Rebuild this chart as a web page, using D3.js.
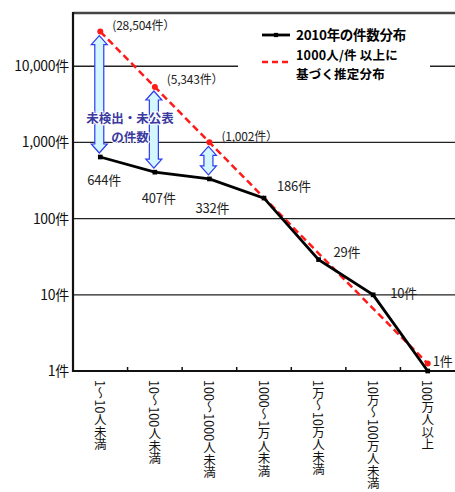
<!DOCTYPE html>
<html><head><meta charset="utf-8">
<script src="https://cdn.jsdelivr.net/npm/d3@7"></script>
<style>
body{margin:0;background:#fff;}
text{font-family:"Noto Sans CJK JP","Noto Sans",sans-serif;}
</style></head><body>
<svg id="c" width="455" height="492"></svg>
<script>
const categories = ["1～10人未満","10～100人未満","100～1000人未満","1000～1万人未満","1万～10万人未満","10万～100万人未満","100万人以上"];
const actual2010 = [644,407,332,186,29,10,1];
const estimated = [28504,5343,1002,188,35,6.6,1.25];
const estimatedLabels = ["(28,504件）","(5,343件）","(1,002件）"];
const actualLabels = ["644件","407件","332件","186件","29件","10件","1件"];
const yTicks = [1,10,100,1000,10000];
const yTickLabels = ["1件","10件","100件","1,000件","10,000件"];
const legendLabels = [["2010年の件数分布"],["1000人/件 以上に","基づく推定分布"]];
const noteLines = ["未検出・未公表","の件数"];

const svg = d3.select("#c");
const L=73, T=13, R=455, B=371;
const x = d3.scaleBand().domain(categories).range([L,R]).padding(0);
const cx = d => x(d)+x.bandwidth()/2;
const y = d3.scaleLog().domain([1,50000]).range([B,T]);

// gridlines
svg.append("g").selectAll("line").data(yTicks.slice(1)).join("line")
  .attr("x1",L).attr("x2",R).attr("y1",d=>y(d)).attr("y2",d=>y(d))
  .attr("stroke","#222").attr("stroke-width",1.3);
// top border
svg.append("line").attr("x1",L).attr("x2",R).attr("y1",T).attr("y2",T).attr("stroke","#444").attr("stroke-width",2.5);

// legend background
svg.append("rect").attr("x",238).attr("y",22).attr("width",192).attr("height",62).attr("fill","#fff");

// y axis labels
svg.append("g").selectAll("text").data(yTicks).join("text")
  .attr("x",L-4).attr("y",d=>y(d)).attr("dy","0.36em").attr("text-anchor","end")
  .attr("font-size",14).attr("fill","#111").attr("letter-spacing","-0.3")
  .text((d,i)=>yTickLabels[i]);

// axes lines
svg.append("line").attr("x1",L).attr("x2",L).attr("y1",T-1).attr("y2",B+1).attr("stroke","#111").attr("stroke-width",2.2);
svg.append("line").attr("x1",L).attr("x2",R).attr("y1",B).attr("y2",B).attr("stroke","#111").attr("stroke-width",2.2);
// x ticks
const tickXs = categories.slice(1).map(c=>x(c));
svg.append("g").selectAll("line").data(tickXs).join("line")
  .attr("x1",d=>d).attr("x2",d=>d).attr("y1",B).attr("y2",B-4).attr("stroke","#111").attr("stroke-width",1.5);

// x labels vertical
svg.append("g").selectAll("text").data(categories).join("text")
  .attr("transform",d=>`translate(${cx(d)},${B+9})`)
  .style("writing-mode","vertical-rl").style("text-orientation","mixed")
  .attr("font-size",12.5).attr("fill","#111")
  .text(d=>d);

// arrows
function arrowPath(xc,y1,y2){
  const hw=8, sw=4.5, hl=9;
  return `M${xc},${y1} L${xc+hw},${y1+hl} L${xc+sw},${y1+hl} L${xc+sw},${y2-hl} L${xc+hw},${y2-hl} L${xc},${y2} L${xc-hw},${y2-hl} L${xc-sw},${y2-hl} L${xc-sw},${y1+hl} L${xc-hw},${y1+hl} Z`;
}
svg.append("g").selectAll("path").data([0,1,2]).join("path")
  .attr("d",i=>arrowPath(cx(categories[i])-1,y(estimated[i])+4,y(actual2010[i])-4))
  .attr("fill","#d4f6ff").attr("stroke","#2c3cf0").attr("stroke-width",1.2);

// note text
const note = svg.append("text").attr("text-anchor","middle")
  .attr("font-size",12.5).attr("font-weight","bold").attr("fill","#3a3aa0")
  .attr("stroke","#fff").attr("stroke-width",2).attr("paint-order","stroke");
note.selectAll("tspan").data(noteLines).join("tspan")
  .attr("x",130).attr("y",(d,i)=>123+i*18.5).text(d=>d);

// estimated line
const line = d3.line().x((d,i)=>cx(categories[i])).y(d=>y(d));
svg.append("path").datum(estimated).attr("d",line).attr("fill","none")
  .attr("stroke","#ff1a1a").attr("stroke-width",2.5).attr("stroke-dasharray","7,4");
svg.append("g").selectAll("circle").data(estimated.slice(0,3).concat([estimated[6]])).join("circle")
  .attr("cx",(d,i)=>cx(categories[i===3?6:i])).attr("cy",d=>y(d)).attr("r",3).attr("fill","#ff1a1a");

// actual line
svg.append("path").datum(actual2010).attr("d",line).attr("fill","none")
  .attr("stroke","#000").attr("stroke-width",2.8);
svg.append("g").selectAll("path").data(actual2010).join("path")
  .attr("transform",(d,i)=>`translate(${cx(categories[i])},${y(d)})`)
  .attr("d",d3.symbol(d3.symbolSquare,22)).attr("fill","#000");

// labels
const estPos=[[12,-2],[12,-3],[12,-1]];
svg.append("g").selectAll("text").data(estimatedLabels).join("text")
  .attr("x",(d,i)=>cx(categories[i])+estPos[i][0]).attr("y",(d,i)=>y(estimated[i])+estPos[i][1])
  .attr("font-size",12).attr("fill","#222").attr("letter-spacing","-0.2").text(d=>d);
const actPos=[[-13,28],[-13,31],[-14,34],[13,-7],[15,-3],[17,3],[5,-5]];
svg.append("g").selectAll("text").data(actualLabels).join("text")
  .attr("x",(d,i)=>cx(categories[i])+actPos[i][0]).attr("y",(d,i)=>y(actual2010[i])+actPos[i][1])
  .attr("font-size",13).attr("fill","#222").attr("letter-spacing","-0.2").text(d=>d);

// legend
svg.append("line").attr("x1",262).attr("x2",290).attr("y1",35).attr("y2",35).attr("stroke","#000").attr("stroke-width",2.8);
svg.append("path").attr("transform","translate(276,35)").attr("d",d3.symbol(d3.symbolSquare,18)).attr("fill","#000");
svg.append("line").attr("x1",262).attr("x2",290).attr("y1",62).attr("y2",62).attr("stroke","#ff1a1a").attr("stroke-width",2.5).attr("stroke-dasharray","6,4");
svg.append("text").attr("x",296).attr("y",40).attr("font-size",13.5).attr("font-weight","bold")
  .attr("fill","#000").attr("letter-spacing","-0.3").text(legendLabels[0][0]);
const leg2 = svg.append("text").attr("font-size",12.5).attr("font-weight","bold")
  .attr("fill","#000").attr("letter-spacing","0.2");
leg2.selectAll("tspan").data(legendLabels[1]).join("tspan")
  .attr("x",296).attr("y",(d,i)=>60+i*18.5).text(d=>d);
</script></body></html>
